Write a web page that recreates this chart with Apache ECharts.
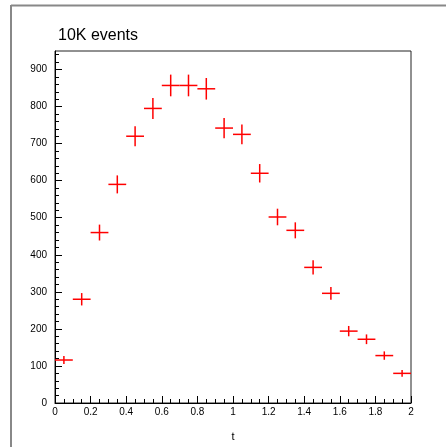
<!DOCTYPE html>
<html>
<head>
<meta charset="utf-8">
<script src="https://cdn.jsdelivr.net/npm/echarts@6/dist/echarts.min.js"></script>
<style>
  html, body { margin: 0; padding: 0; background: #fff; }
  #chart { width: 446px; height: 447px; }
</style>
</head>
<body>
<div id="chart"></div>
<script>
// Histogram of t: bin centres, counts per bin, bin width
const binCenters = [0.05, 0.15, 0.25, 0.35, 0.45, 0.55, 0.65, 0.75, 0.85, 0.95,
                    1.05, 1.15, 1.25, 1.35, 1.45, 1.55, 1.65, 1.75, 1.85, 1.95];
const counts = [116, 280, 460, 590, 720, 795, 857, 857, 848, 742,
                725, 620, 502, 466, 366, 296, 194, 172, 128, 80];
const binWidth = 0.1;

// Axis ticks
const xTicks = [0, 0.2, 0.4, 0.6, 0.8, 1, 1.2, 1.4, 1.6, 1.8, 2];
const yMajorTicks = [0, 100, 200, 300, 400, 500, 600, 700, 800, 900];
const yMinorTicks = [20, 40, 60, 80, 120, 140, 160, 180, 220, 240, 260, 280,
                     320, 340, 360, 380, 420, 440, 460, 480, 520, 540, 560, 580,
                     620, 640, 660, 680, 720, 740, 760, 780, 820, 840, 860, 880,
                     920, 940];

const titleText = '10K events';
const xName = 't';

const FONT = 'Liberation Sans, Helvetica, Arial, sans-serif';

// Poisson errors for each bin
const points = binCenters.map((c, i) => [c, counts[i], Math.sqrt(counts[i])]);

const chart = echarts.init(document.getElementById('chart'), null, { renderer: 'canvas' });

chart.setOption({
  animation: false,
  backgroundColor: '#ffffff',
  title: {
    text: titleText,
    left: 53,
    top: 23,
    textStyle: { fontFamily: FONT, fontSize: 16, fontWeight: 'normal', color: '#000' }
  },
  grid: {
    left: 55, top: 51, width: 356, height: 355,
    show: true, borderColor: '#222', borderWidth: 1, backgroundColor: 'transparent'
  },
  xAxis: {
    type: 'value',
    min: 0, max: 2, interval: 0.2,
    name: xName,
    nameLocation: 'middle',
    nameGap: 28,
    nameTextStyle: { fontFamily: FONT, fontSize: 11, color: '#000' },
    axisLine: { show: true, lineStyle: { color: '#000', width: 1 } },
    axisTick: { show: true, inside: true, length: 7, lineStyle: { color: '#000', width: 1 } },
    minorTick: { show: true, splitNumber: 4, length: 4, lineStyle: { color: '#000', width: 1 } },
    splitLine: { show: false },
    axisLabel: {
      show: true, margin: 4,
      fontFamily: FONT, fontSize: 10, color: '#000',
      formatter: v => (xTicks.indexOf(Math.round(v * 10) / 10) >= 0 ? String(Math.round(v * 10) / 10) : '')
    }
  },
  yAxis: [
    {
      type: 'value',
      min: 0, max: 950,
      position: 'left',
      axisLine: { show: true, lineStyle: { color: '#000', width: 1 } },
      axisTick: { show: true, inside: true, length: 7, customValues: yMajorTicks,
                  lineStyle: { color: '#000', width: 1 } },
      axisLabel: { show: true, margin: 8, customValues: yMajorTicks,
                   fontFamily: FONT, fontSize: 10, color: '#000' },
      splitLine: { show: false }
    },
    {
      type: 'value',
      min: 0, max: 950,
      position: 'left',
      axisLine: { show: false },
      axisTick: { show: true, inside: true, length: 4, customValues: yMinorTicks,
                  lineStyle: { color: '#000', width: 1 } },
      axisLabel: { show: false },
      splitLine: { show: false }
    }
  ],
  graphic: [
    // canvas frame
    { type: 'line', shape: { x1: 11, y1: 5.5, x2: 446, y2: 5.5 },
      style: { stroke: '#888', lineWidth: 2 }, silent: true },
    { type: 'line', shape: { x1: 11, y1: 5, x2: 11, y2: 447 },
      style: { stroke: '#888', lineWidth: 2 }, silent: true }
  ],
  series: [{
    type: 'custom',
    xAxisIndex: 0,
    yAxisIndex: 0,
    data: points,
    clip: false,
    renderItem: function (params, api) {
      const x = api.value(0), y = api.value(1), e = api.value(2);
      const left = api.coord([x - binWidth / 2, y]);
      const right = api.coord([x + binWidth / 2, y]);
      const lo = api.coord([x, y - e]);
      const hi = api.coord([x, y + e]);
      const style = { stroke: '#ff0000', lineWidth: 1.5 };
      return {
        type: 'group',
        children: [
          { type: 'line', shape: { x1: left[0], y1: left[1], x2: right[0], y2: right[1] }, style: style },
          { type: 'line', shape: { x1: lo[0], y1: lo[1], x2: hi[0], y2: hi[1] }, style: style }
        ]
      };
    }
  }]
});
</script>
</body>
</html>
